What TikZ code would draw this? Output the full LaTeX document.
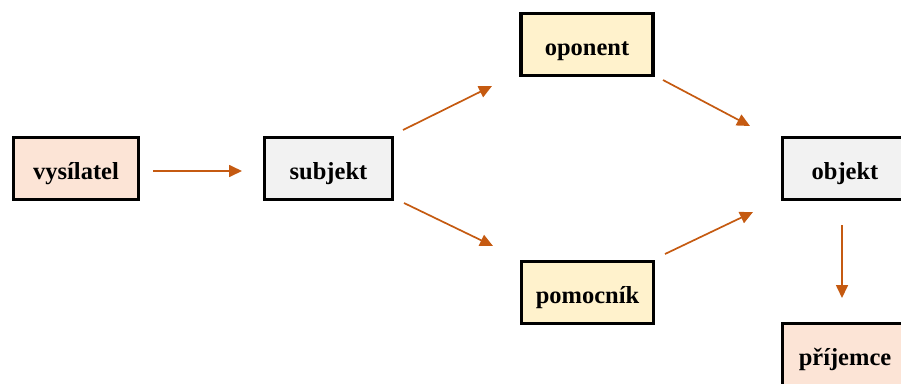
\documentclass[tikz,border=0pt]{standalone}
\usepackage{fontspec}
\setmainfont{Liberation Serif}
\usetikzlibrary{arrows.meta}
\definecolor{peach}{HTML}{FCE4D6}
\definecolor{greyfill}{HTML}{F2F2F2}
\definecolor{cream}{HTML}{FFF2CC}
\definecolor{arr}{HTML}{C55A11}
\begin{document}
\begin{tikzpicture}[x=1pt,y=-1pt,
  box/.style={draw=black,line width=3.2pt,minimum height=62pt,inner sep=0pt,
    text height=21pt,text depth=0pt,
    font=\fontsize{24.5}{28}\selectfont\bfseries},
  conn/.style={draw=arr,line width=1.7pt,-{Triangle[length=13pt,width=12pt]}}]
\useasboundingbox (0,0) rectangle (901,383);
\node[box,fill=peach,minimum width=125pt] (vys) at (76,168.5) {vysílatel};
\node[box,fill=greyfill,minimum width=128pt] (sub) at (328.5,168.5) {subjekt};
\node[box,fill=cream,minimum width=132pt] (opo) at (587,44.5) {oponent};
\node[box,fill=cream,minimum width=132pt] (pom) at (587.5,292.5) {pomocník};
\node[box,fill=greyfill,minimum width=125pt] (obj) at (845,168.5) {objekt};
\node[box,fill=peach,minimum width=125pt] (pri) at (845,354.5) {příjemce};
\coordinate (a1) at (153,171); \coordinate (a2) at (242,171);
\coordinate (b1) at (403,130); \coordinate (b2) at (492,86);
\coordinate (c1) at (404,203); \coordinate (c2) at (493,246);
\coordinate (d1) at (663,80);  \coordinate (d2) at (750,126);
\coordinate (e1) at (665,254); \coordinate (e2) at (753,212);
\coordinate (f1) at (842,225); \coordinate (f2) at (842,298);
\draw[conn] (a1) -- (a2);
\draw[conn] (b1) -- (b2);
\draw[conn] (c1) -- (c2);
\draw[conn] (d1) -- (d2);
\draw[conn] (e1) -- (e2);
\draw[conn] (f1) -- (f2);
\end{tikzpicture}
\end{document}
